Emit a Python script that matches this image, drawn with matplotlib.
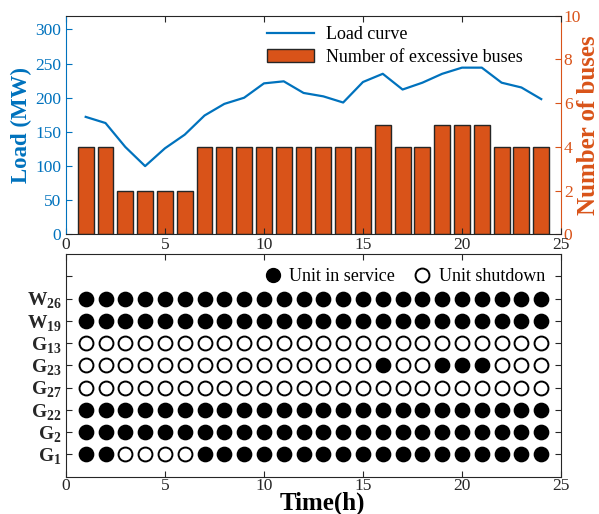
import numpy as np
import matplotlib
matplotlib.use("Agg")
import matplotlib.pyplot as plt
from matplotlib.lines import Line2D

plt.rcParams['font.family'] = ['Liberation Serif', 'DejaVu Serif']
plt.rcParams['mathtext.fontset'] = 'custom'
plt.rcParams['mathtext.rm'] = 'Liberation Serif'
plt.rcParams['mathtext.bf'] = 'Liberation Serif:bold'

# данные
hours = list(range(1, 25))
load = [172, 163, 128, 100, 126, 146, 174, 191, 200, 221, 224, 207,
        202, 193, 223, 235, 212, 222, 235, 244, 244, 222, 215, 198]
buses = [4, 4, 2, 2, 2, 2, 4, 4, 4, 4, 4, 4,
         4, 4, 4, 5, 4, 4, 5, 5, 5, 4, 4, 4]

unit_names = ['G1', 'G2', 'G22', 'G27', 'G23', 'G13', 'W19', 'W26']
unit_labels = [r'$\mathbf{G}_{\mathbf{1}}$', r'$\mathbf{G}_{\mathbf{2}}$',
               r'$\mathbf{G}_{\mathbf{22}}$', r'$\mathbf{G}_{\mathbf{27}}$',
               r'$\mathbf{G}_{\mathbf{23}}$', r'$\mathbf{G}_{\mathbf{13}}$',
               r'$\mathbf{W}_{\mathbf{19}}$', r'$\mathbf{W}_{\mathbf{26}}$']
status_G1 = [1, 1, 0, 0, 0, 0, 1, 1, 1, 1, 1, 1, 1, 1, 1, 1, 1, 1, 1, 1, 1, 1, 1, 1]
status_G2 = [1, 1, 1, 1, 1, 1, 1, 1, 1, 1, 1, 1, 1, 1, 1, 1, 1, 1, 1, 1, 1, 1, 1, 1]
status_G22 = [1, 1, 1, 1, 1, 1, 1, 1, 1, 1, 1, 1, 1, 1, 1, 1, 1, 1, 1, 1, 1, 1, 1, 1]
status_G27 = [0, 0, 0, 0, 0, 0, 0, 0, 0, 0, 0, 0, 0, 0, 0, 0, 0, 0, 0, 0, 0, 0, 0, 0]
status_G23 = [0, 0, 0, 0, 0, 0, 0, 0, 0, 0, 0, 0, 0, 0, 0, 1, 0, 0, 1, 1, 1, 0, 0, 0]
status_G13 = [0, 0, 0, 0, 0, 0, 0, 0, 0, 0, 0, 0, 0, 0, 0, 0, 0, 0, 0, 0, 0, 0, 0, 0]
status_W19 = [1, 1, 1, 1, 1, 1, 1, 1, 1, 1, 1, 1, 1, 1, 1, 1, 1, 1, 1, 1, 1, 1, 1, 1]
status_W26 = [1, 1, 1, 1, 1, 1, 1, 1, 1, 1, 1, 1, 1, 1, 1, 1, 1, 1, 1, 1, 1, 1, 1, 1]
statuses = [status_G1, status_G2, status_G22, status_G27,
            status_G23, status_G13, status_W19, status_W26]

blue = '#0072BD'
orange = '#D95319'
dark = '#262626'

fig = plt.figure(figsize=(5.99, 5.14), dpi=100)

# верхний график - нагрузка и число шин
ax1 = fig.add_axes([0.110, 0.5438, 0.8266, 0.4257])
ax2 = ax1.twinx()
ax1.set_zorder(ax2.get_zorder() + 1)
ax1.patch.set_visible(False)

ax2.bar(hours, buses, width=0.8, color=orange, edgecolor=dark, linewidth=1.0,
        label='Number of excessive buses')
line, = ax1.plot(hours, load, color=blue, linewidth=1.6, label='Load curve')

ax1.set_xlim(0, 25)
ax1.set_ylim(0, 320)
ax2.set_ylim(0, 10)
ax1.set_xticks([0, 5, 10, 15, 20, 25])
ax1.set_yticks([0, 50, 100, 150, 200, 250, 300])
ax2.set_yticks([0, 2, 4, 6, 8, 10])

ax1.tick_params(axis='y', direction='in', colors=blue, labelsize=12.5, length=4)
ax1.tick_params(axis='x', direction='in', colors=dark, labelsize=12.5, length=4,
                top=True, pad=2)
ax2.tick_params(axis='y', direction='in', colors=orange, labelsize=12.5, length=4,
                pad=2)

for s in ['top', 'bottom']:
    ax1.spines[s].set_color(dark)
ax1.spines['left'].set_color(blue)
ax1.spines['right'].set_visible(False)
for s in ['top', 'bottom', 'left']:
    ax2.spines[s].set_visible(False)
ax2.spines['right'].set_color(orange)

ax1.set_ylabel('Load (MW)', color=blue, fontsize=16.5, fontweight='bold', labelpad=2)
ax2.set_ylabel('Number of buses', color=orange, fontsize=18, fontweight='bold',
               labelpad=-3)

bar_handle = plt.Rectangle((0, 0), 1, 1, facecolor=orange, edgecolor=dark, linewidth=1.0)
ax1.legend([line, bar_handle], ['Load curve', 'Number of excessive buses'],
           loc='upper right', bbox_to_anchor=(0.956, 1.025), frameon=False,
           fontsize=13, handlelength=2.6, handletextpad=0.7, labelspacing=0.3)

# нижний график - состояние агрегатов
ax3 = fig.add_axes([0.110, 0.0726, 0.8266, 0.4332])
for i, st in enumerate(statuses):
    st = np.array(st)
    h = np.array(hours)
    y = np.full(len(h), i + 1)
    ax3.plot(h[st == 1], y[st == 1], 'o', color='black', markersize=10,
             markeredgewidth=1.3)
    ax3.plot(h[st == 0], y[st == 0], 'o', markerfacecolor='white',
             markeredgecolor='black', markersize=10, markeredgewidth=1.4)

ax3.set_xlim(0, 25)
ax3.set_ylim(0, 10)
ax3.set_xticks([0, 5, 10, 15, 20, 25])
ax3.set_yticks(range(1, 10))
ax3.set_yticklabels(unit_labels + [''], fontsize=14)
ax3.tick_params(direction='in', colors=dark, labelsize=12.5, length=4,
                top=True, right=True)
ax3.tick_params(axis='x', pad=1)
ax3.tick_params(axis='y', labelsize=14, pad=3)
for s in ax3.spines.values():
    s.set_color(dark)
ax3.set_xlabel('Time(h)', fontsize=18, fontweight='bold')
ax3.xaxis.set_label_coords(0.519, -0.068)

h_on = Line2D([], [], marker='o', linestyle='none', color='black', markersize=10)
h_off = Line2D([], [], marker='o', linestyle='none', markerfacecolor='white',
               markeredgecolor='black', markersize=10, markeredgewidth=1.4)
ax3.legend([h_on, h_off], ['Unit in service', 'Unit shutdown'], ncol=2,
           loc='upper right', bbox_to_anchor=(1.0, 1.01), frameon=False,
           fontsize=13, handlelength=1.0, handletextpad=0.4, columnspacing=1.0)

fig.savefig('out.png', dpi=100)
